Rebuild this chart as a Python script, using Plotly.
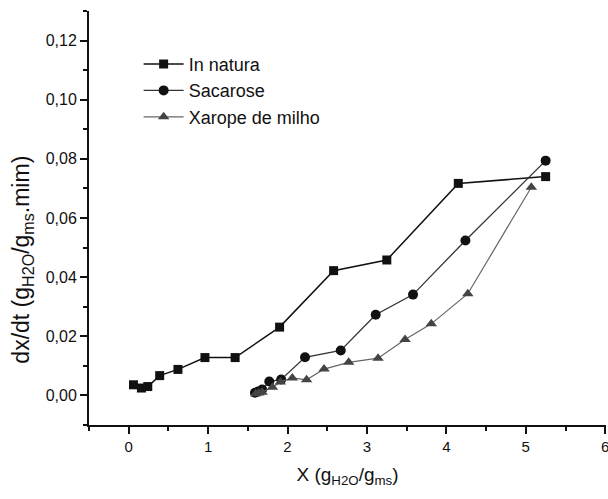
import plotly.graph_objects as go

# In natura
x_natura = [0.06, 0.16, 0.24, 0.39, 0.62, 0.96, 1.34, 1.90, 2.58, 3.25, 4.15, 5.25]
y_natura = [0.0036, 0.0025, 0.0030, 0.0067, 0.0088, 0.0128, 0.0128, 0.0231, 0.0422, 0.0458, 0.0717, 0.0740]

# Sacarose
x_sac = [1.59, 1.63, 1.68, 1.77, 1.92, 2.22, 2.67, 3.11, 3.58, 4.24, 5.25]
y_sac = [0.0009, 0.0013, 0.0020, 0.0047, 0.0054, 0.0129, 0.0152, 0.0273, 0.0341, 0.0524, 0.0794]

# Xarope de milho
x_xar = [1.60, 1.64, 1.68, 1.81, 1.91, 2.06, 2.24, 2.46, 2.77, 3.14, 3.48, 3.81, 4.27, 5.07]
y_xar = [0.0006, 0.0008, 0.0011, 0.0028, 0.0045, 0.0059, 0.0053, 0.0089, 0.0112, 0.0126, 0.0189, 0.0242, 0.0344, 0.0704]

series_names = ["In natura", "Sacarose", "Xarope de milho"]
x_title = "X (g<sub>H2O</sub>/g<sub>ms</sub>)"
y_title = "dx/dt (g<sub>H2O</sub>/g<sub>ms</sub>.mim)"

FONT = "Liberation Sans, Arial, sans-serif"

fig = go.Figure()
fig.add_trace(go.Scatter(x=x_natura, y=y_natura, name=series_names[0], mode="lines+markers",
                         line=dict(color="#111111", width=1.5),
                         marker=dict(symbol="square", size=9, color="#111111")))
fig.add_trace(go.Scatter(x=x_sac, y=y_sac, name=series_names[1], mode="lines+markers",
                         line=dict(color="#333333", width=1.3),
                         marker=dict(symbol="circle", size=10, color="#111111")))
fig.add_trace(go.Scatter(x=x_xar, y=y_xar, name=series_names[2], mode="lines+markers",
                         line=dict(color="#666666", width=1.2),
                         marker=dict(symbol="triangle-up", size=10, color="#444444")))

fig.update_layout(
    width=608, height=499,
    margin=dict(l=89, r=2, t=11, b=74, autoexpand=False),
    paper_bgcolor="white", plot_bgcolor="white",
    separators=",.",
    font=dict(family=FONT, size=15, color="#111111"),
    showlegend=True,
    legend=dict(x=0.096, y=0.916, xanchor="left", yanchor="top",
                bgcolor="rgba(0,0,0,0)", font=dict(size=18, color="#111111"),
                tracegroupgap=0, itemwidth=40),
    annotations=[dict(text=y_title, xref="paper", yref="paper", x=-0.128, y=0.399,
                      xanchor="center", yanchor="middle", textangle=-90, showarrow=False,
                      font=dict(size=23, color="#111111"))],
)

fig.update_xaxes(
    range=[-0.5, 6.01], tickmode="linear", tick0=0, dtick=1, automargin=False,
    ticklabeloverflow="allow",
    showline=True, linecolor="#111111", linewidth=2,
    ticks="outside", ticklen=7, tickwidth=2, tickcolor="#111111",
    minor=dict(dtick=0.5, tick0=0, ticks="outside", ticklen=4, tickwidth=2, tickcolor="#111111"),
    showgrid=False, zeroline=False, mirror=False,
    tickfont=dict(size=15, color="#111111"),
    title=dict(text=x_title, font=dict(size=19, color="#111111"), standoff=14),
)
fig.update_yaxes(
    range=[-0.01, 0.13], tickmode="linear", tick0=0, dtick=0.02, tickformat=".2f",
    automargin=False, ticklabeloverflow="allow",
    showline=True, linecolor="#111111", linewidth=2,
    ticks="outside", ticklen=7, tickwidth=2, tickcolor="#111111",
    minor=dict(dtick=0.01, tick0=0, ticks="outside", ticklen=4, tickwidth=2, tickcolor="#111111"),
    showgrid=False, zeroline=False, mirror=False,
    tickfont=dict(size=16, color="#111111"),
)

fig.write_html("out.html", config={"displayModeBar": False},
               post_script="document.body.style.margin='0';document.body.style.overflow='hidden';")
